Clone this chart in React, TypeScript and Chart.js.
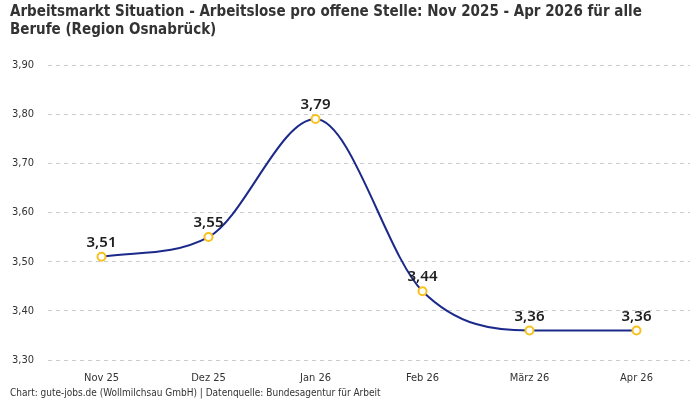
import React, { useEffect, useRef } from "react";
import { Chart, registerables } from "chart.js";

Chart.register(...registerables);

const months = ["Nov 25", "Dez 25", "Jan 26", "Feb 26", "März 26", "Apr 26"];
const ratio = [3.51, 3.55, 3.79, 3.44, 3.36, 3.36];
const titleLines = [
  "Arbeitsmarkt Situation - Arbeitslose pro offene Stelle: Nov 2025 - Apr 2026 für alle",
  "Berufe (Region Osnabrück)",
];
const sourceNote = "Chart: gute-jobs.de (Wollmilchsau GmbH) | Datenquelle: Bundesagentur für Arbeit";

const narrow = "'DejaVu Sans Condensed', 'Liberation Sans Narrow', sans-serif";
const fmt = (v: number) => v.toFixed(2).replace(".", ",");

// Value labels above each point
const valueLabels = {
  id: "valueLabels",
  afterDatasetsDraw(chart: any) {
    const ctx = chart.ctx;
    const meta = chart.getDatasetMeta(0);
    ctx.save();
    ctx.font = "600 15px 'Noto Sans', sans-serif";
    ctx.fillStyle = "#1e1e1e";
    ctx.textAlign = "center";
    ctx.textBaseline = "alphabetic";
    meta.data.forEach((pt: any, i: number) => {
      ctx.fillText(fmt(ratio[i]), pt.x, pt.y - 10);
    });
    ctx.restore();
  },
};

export default function App() {
  const ref = useRef<HTMLCanvasElement>(null);
  useEffect(() => {
    document.body.style.margin = "0";
    const chart = new Chart(ref.current!, {
      type: "line",
      data: {
        labels: months,
        datasets: [
          {
            data: ratio,
            borderColor: "#1b2a8a",
            borderWidth: 2,
            cubicInterpolationMode: "monotone",
            pointRadius: 4,
            pointBorderWidth: 2,
            pointBackgroundColor: "#ffffff",
            pointBorderColor: "#f7c21e",
            fill: false,
          },
        ],
      },
      options: {
        responsive: false,
        animation: false,
        layout: { padding: { left: 10, right: 10, top: 0, bottom: 0 } },
        plugins: {
          legend: { display: false },
          tooltip: { enabled: false },
          title: {
            display: true,
            text: titleLines,
            align: "start",
            color: "#333",
            font: { family: narrow, size: 15, weight: "bold", lineHeight: 1.2 },
            padding: { top: 3, bottom: 26 },
          },
          subtitle: {
            display: true,
            position: "bottom",
            text: sourceNote,
            align: "start",
            color: "#333",
            font: { family: narrow, size: 10 },
            padding: { top: 3, bottom: 1 },
          },
        },
        scales: {
          x: {
            offset: true,
            grid: { display: false, drawTicks: false },
            border: { display: false },
            ticks: { color: "#333", font: { family: narrow, size: 11 }, padding: 12 },
            afterFit: (scale: any) => {
              scale.height = 24;
            },
          },
          y: {
            min: 3.3,
            max: 3.9,
            border: { display: false, dash: [4, 4] },
            grid: { color: "#cccccc", drawTicks: false },
            ticks: {
              stepSize: 0.1,
              color: "#333",
              padding: 14,
              font: { family: narrow, size: 11 },
              callback: (v: any) => fmt(Number(v)),
            },
            afterFit: (scale: any) => {
              scale.width = 38;
            },
          },
        },
      },
      plugins: [valueLabels],
    });
    return () => chart.destroy();
  }, []);
  return <canvas ref={ref} width={700} height={400} />;
}
